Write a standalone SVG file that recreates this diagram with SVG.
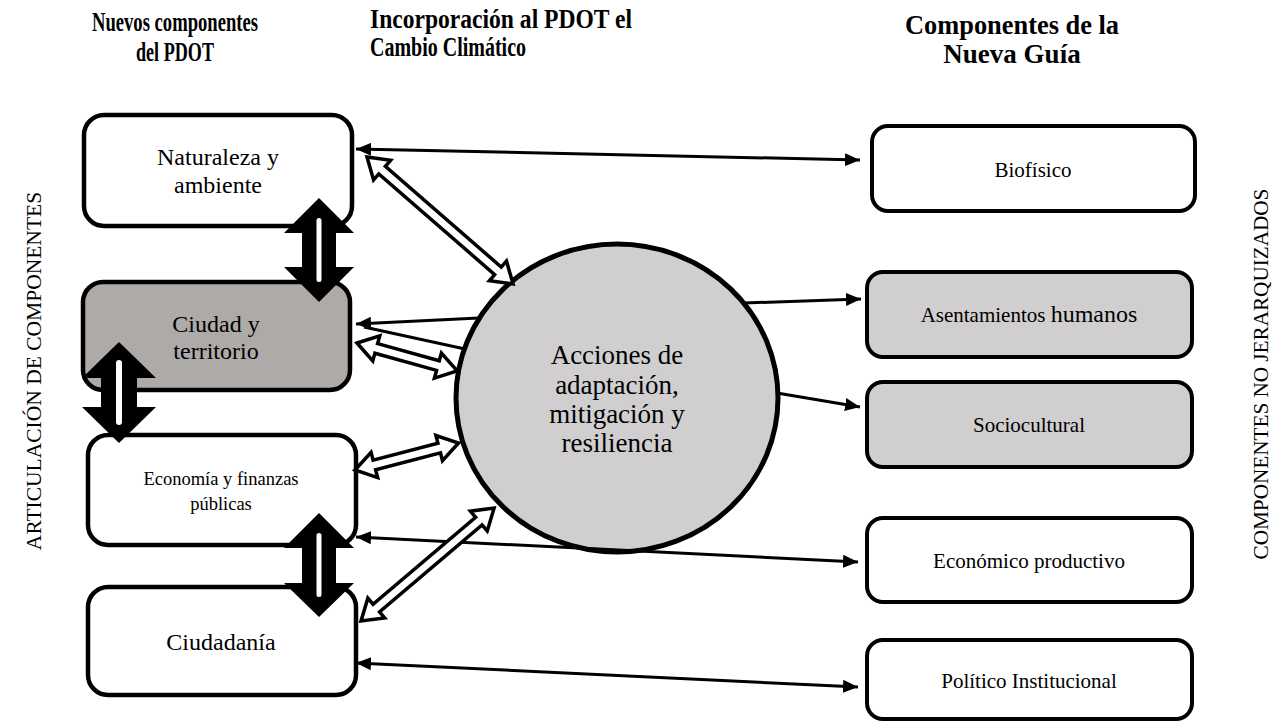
<svg xmlns="http://www.w3.org/2000/svg" width="1273" height="723" viewBox="0 0 1273 723">
<defs>
<style>
text{font-family:"Liberation Serif","Times New Roman",serif;fill:#000}
.hdr{font-weight:bold;font-size:27px}
.lbox{stroke:#000;stroke-width:4.5;fill:#fff}
.rbox{stroke:#000;stroke-width:4;fill:#fff}
.thin{stroke:#000;stroke-width:3;fill:none}
.hollow{stroke:#000;stroke-width:3.5;fill:#fff;stroke-linejoin:miter}
.thick{fill:#000}
.slit{fill:#fff}
</style>
<marker id="ah" viewBox="0 0 15 13" refX="15" refY="6.5" markerWidth="15" markerHeight="13" markerUnits="userSpaceOnUse" orient="auto-start-reverse">
<path d="M0,0 L15,6.5 L0,13 Z" fill="#000"/>
</marker>
</defs>
<rect width="1273" height="723" fill="#fff"/>

<g id="headers">
<text class="hdr" x="175" y="31" text-anchor="middle" textLength="166" lengthAdjust="spacingAndGlyphs">Nuevos componentes</text>
<text class="hdr" x="175" y="61" text-anchor="middle" textLength="78" lengthAdjust="spacingAndGlyphs">del PDOT</text>
<text class="hdr" x="370" y="28" textLength="262" lengthAdjust="spacingAndGlyphs">Incorporación al PDOT el</text>
<text class="hdr" x="370" y="56" textLength="156" lengthAdjust="spacingAndGlyphs">Cambio Climático</text>
<text class="hdr" x="1012" y="34" text-anchor="middle" textLength="214" lengthAdjust="spacingAndGlyphs">Componentes de la</text>
<text class="hdr" x="1012" y="63" text-anchor="middle">Nueva Guía</text>
</g>

<g id="side-labels">
<text x="0" y="0" font-size="21.5" text-anchor="middle" transform="translate(41,371) rotate(-90)">ARTICULACIÓN DE COMPONENTES</text>
<text x="0" y="0" font-size="21.2" text-anchor="middle" transform="translate(1268,374) rotate(-90)">COMPONENTES NO JERARQUIZADOS</text>
</g>

<g id="naturaleza">
<rect class="lbox" x="84" y="115" width="268" height="111" rx="20"/>
<text x="218" y="165" font-size="24" text-anchor="middle">Naturaleza y</text>
<text x="218" y="193" font-size="24" text-anchor="middle">ambiente</text>
</g>
<g id="ciudad">
<rect class="lbox" x="83" y="282" width="267" height="108" rx="20" style="fill:#AEAAA8"/>
<text x="216" y="332" font-size="24" text-anchor="middle">Ciudad y</text>
<text x="216" y="359" font-size="24" text-anchor="middle">territorio</text>
</g>
<g id="economia">
<rect class="lbox" x="88" y="435" width="268" height="110" rx="20"/>
<text x="221" y="485" font-size="18.5" text-anchor="middle">Economía y finanzas</text>
<text x="221" y="510" font-size="18.5" text-anchor="middle">públicas</text>
</g>
<g id="ciudadania">
<rect class="lbox" x="88" y="587" width="268" height="108" rx="20"/>
<text x="221" y="650" font-size="24" text-anchor="middle">Ciudadanía</text>
</g>

<g id="biofisico">
<rect class="rbox" x="872" y="126" width="323" height="85" rx="16"/>
<text x="1033" y="177" font-size="21" text-anchor="middle">Biofísico</text>
</g>
<g id="asentamientos">
<rect class="rbox" x="867" y="272" width="325" height="85" rx="16" style="fill:#D0CECF"/>
<text x="1029" y="322" font-size="21" text-anchor="middle">Asentamientos <tspan font-size="24">humanos</tspan></text>
</g>
<g id="sociocultural">
<rect class="rbox" x="867" y="382" width="325" height="85" rx="16" style="fill:#D0CECF"/>
<text x="1029" y="432" font-size="21" text-anchor="middle">Sociocultural</text>
</g>
<g id="economico">
<rect class="rbox" x="867" y="518" width="325" height="84" rx="16"/>
<text x="1029" y="568" font-size="21" text-anchor="middle">Económico productivo</text>
</g>
<g id="politico">
<rect class="rbox" x="867" y="640" width="325" height="79" rx="16"/>
<text x="1029" y="688" font-size="21" text-anchor="middle">Político Institucional</text>
</g>

<g id="acciones">
<ellipse cx="617" cy="398" rx="161" ry="154" fill="#D0CECF" stroke="#000" stroke-width="5"/>
<text x="617" y="364" font-size="27" text-anchor="middle">Acciones de</text>
<text x="617" y="394" font-size="27" text-anchor="middle">adaptación,</text>
<text x="617" y="423" font-size="27" text-anchor="middle">mitigación y</text>
<text x="617" y="452" font-size="27" text-anchor="middle">resiliencia</text>
</g>

<g id="connectors">
<line class="thin" x1="356" y1="149" x2="860" y2="160" marker-start="url(#ah)" marker-end="url(#ah)"/>
<line class="thin" x1="744" y1="303" x2="861" y2="299" marker-end="url(#ah)"/>
<line class="thin" x1="479" y1="318" x2="356" y2="324" marker-end="url(#ah)"/>
<line class="thin" x1="465" y1="349" x2="364" y2="327"/>
<line class="thin" x1="777" y1="393" x2="860" y2="407" marker-end="url(#ah)"/>
<line class="thin" x1="356" y1="537" x2="858" y2="562" marker-start="url(#ah)" marker-end="url(#ah)"/>
<line class="thin" x1="356" y1="663" x2="858" y2="687" marker-start="url(#ah)" marker-end="url(#ah)"/>

<path class="hollow" transform="translate(367,157) rotate(41)" d="M0,0 L20,-13 L20,-5 L173.5,-5 L173.5,-13 L193.5,0 L173.5,13 L173.5,5 L20,5 L20,13 Z"/>
<path class="hollow" transform="translate(357,343) rotate(15.6)" d="M0,0 L20,-13 L20,-5 L84,-5 L84,-13 L104,0 L84,13 L84,5 L20,5 L20,13 Z"/>
<path class="hollow" transform="translate(355,470) rotate(-14.6)" d="M0,0 L20,-13 L20,-5 L87,-5 L87,-13 L107,0 L87,13 L87,5 L20,5 L20,13 Z"/>
<path class="hollow" transform="translate(361,621) rotate(-40.3)" d="M0,0 L20,-13 L20,-5 L154.5,-5 L154.5,-13 L174.5,0 L154.5,13 L154.5,5 L20,5 L20,13 Z"/>

<path class="thick" d="M319,198 L354,233 L336,233 L336,267 L354,267 L319,302 L284,267 L302,267 L302,233 L284,233 Z"/>
<rect class="slit" x="316.5" y="218" width="5" height="64" rx="2.5"/>
<path class="thick" d="M119,342 L156,378 L137,378 L137,407 L156,407 L119,443 L82,407 L101,407 L101,378 L82,378 Z"/>
<rect class="slit" x="116" y="360" width="6" height="65" rx="3"/>
<path class="thick" d="M319,513 L354,548 L336,548 L336,583 L354,583 L319,617 L284,583 L302,583 L302,548 L284,548 Z"/>
<rect class="slit" x="316.5" y="533" width="5" height="64" rx="2.5"/>
</g>
</svg>
